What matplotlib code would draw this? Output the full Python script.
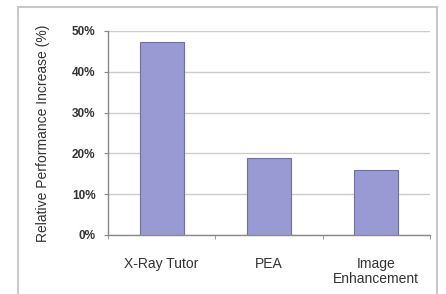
import matplotlib
matplotlib.use("Agg")
import matplotlib.pyplot as plt
from matplotlib.patches import Rectangle
from matplotlib.ticker import FuncFormatter, FixedLocator

categories = ["X-Ray Tutor", "PEA", "Image\nEnhancement"]
values = [47.3, 18.9, 16.0]
yticks = [0, 10, 20, 30, 40, 50]

plt.rcParams['font.family'] = ['Liberation Sans', 'DejaVu Sans']

fig = plt.figure(figsize=(4.46, 2.94), dpi=100)
ax = fig.add_axes([0.242, 0.2007, 0.722, 0.694])

# outer frame
fig.patches.append(Rectangle((18/446, -0.05), (437-18)/446, (294-7)/294 + 0.05,
                             transform=fig.transFigure, fill=False,
                             edgecolor='#c8c8c8', linewidth=1.5))

x = list(range(len(categories)))
ax.bar(x, values, width=0.41, color='#9999d4', edgecolor='#6f6fa8', linewidth=0.8, zorder=3)

ax.set_xlim(-0.5, len(categories) - 0.5)
ax.set_ylim(0, 50)
ax.set_yticks(yticks)
ax.yaxis.set_major_formatter(FuncFormatter(lambda v, p: f"{int(v)}%"))
ax.grid(axis='y', color='#cccccc', linewidth=1.0, zorder=0)

ax.set_xticks(x)
ax.set_xticklabels(categories, fontsize=10, color='#333333', linespacing=1.1)
ax.xaxis.set_minor_locator(FixedLocator([-0.5, 0.5, 1.5, 2.5]))
ax.tick_params(axis='x', which='major', length=0, pad=16)
ax.tick_params(axis='x', which='minor', length=3, color='#888888', direction='out')
ax.tick_params(axis='y', length=3, color='#888888', labelsize=8.5, labelcolor='#333333', pad=6)
for lab in ax.get_yticklabels():
    lab.set_fontweight('bold')

for s in ['top', 'right']:
    ax.spines[s].set_visible(False)
for s in ['left', 'bottom']:
    ax.spines[s].set_color('#888888')
    ax.spines[s].set_linewidth(1.0)

ax.set_ylabel("Relative Performance Increase (%)", fontsize=10, color='#333333', labelpad=16)

fig.savefig("out.png", dpi=100)
